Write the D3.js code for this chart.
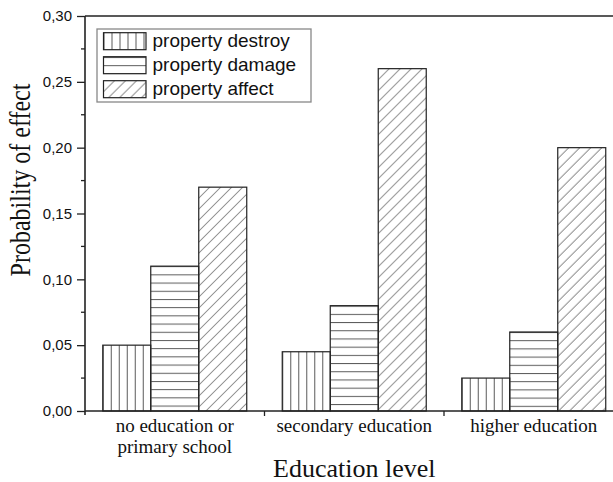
<!DOCTYPE html>
<html>
<head>
<meta charset="utf-8">
<script src="https://cdn.jsdelivr.net/npm/d3@7/dist/d3.min.js"></script>
<style>
  html, body { margin: 0; padding: 0; background: #fff; }
  svg { display: block; }
</style>
</head>
<body>
<div id="chart"></div>
<script>
// Education levels (x categories)
const categories = ["no education or\nprimary school", "secondary education", "higher education"];
// Probability of each kind of effect per education level
const seriesNames = ["property destroy", "property damage", "property affect"];
const destroyValues = [0.05, 0.045, 0.025];
const damageValues = [0.11, 0.08, 0.06];
const affectValues = [0.17, 0.26, 0.20];
const yTicks = [0.00, 0.05, 0.10, 0.15, 0.20, 0.25, 0.30];

const seriesValues = [destroyValues, damageValues, affectValues];
const hatchKinds = ["vertical", "horizontal", "diagonal"];

const W = 613, H = 482;
const plotLeft = 85, plotTop = 16, plotBottom = 411;
const catStep = 179.5;
const textColor = "#111";

const svg = d3.select("#chart").append("svg")
  .attr("width", W).attr("height", H)
  .style("background", "#fff");
const defs = svg.append("defs");

const x0 = d3.scaleBand().domain(d3.range(categories.length))
  .range([plotLeft, plotLeft + catStep * categories.length]).padding(0);
const x1 = d3.scaleBand().domain(d3.range(seriesNames.length))
  .range([0, x0.bandwidth()]).paddingInner(0).paddingOuter(0.37);
const y = d3.scaleLinear().domain([0, 0.30]).range([plotBottom, plotTop]);

const hatchColor = "#5a5a5a";
const edgeColor = "#222";

// one pattern per mark so each hatch starts at its own edge
function makePattern(id, kind, ox, oy) {
  const p = defs.append("pattern").attr("id", id)
    .attr("patternUnits", "userSpaceOnUse")
    .attr("x", ox).attr("y", oy);
  if (kind === "vertical") {
    p.attr("width", 8).attr("height", 10);
    p.append("line").attr("x1", 0.5).attr("x2", 0.5).attr("y1", 0).attr("y2", 10)
      .attr("stroke", hatchColor).attr("stroke-width", 1);
  } else if (kind === "horizontal") {
    p.attr("width", 10).attr("height", 8.2);
    p.append("line").attr("x1", 0).attr("x2", 10).attr("y1", 0.5).attr("y2", 0.5)
      .attr("stroke", hatchColor).attr("stroke-width", 1);
  } else {
    const s = 11;
    p.attr("width", s).attr("height", s);
    p.append("path")
      .attr("d", `M0,${s} L${s},0 M-2,2 L2,-2 M${s - 2},${s + 2} L${s + 2},${s - 2}`)
      .attr("stroke", hatchColor).attr("stroke-width", 0.95).attr("fill", "none");
  }
  return `url(#${id})`;
}

// bars
const plot = svg.append("g");
categories.forEach((c, ci) => {
  seriesValues.forEach((vals, si) => {
    const bx = x0(ci) + x1(si);
    const by = y(vals[ci]);
    const fill = makePattern(`h-${ci}-${si}`, hatchKinds[si], bx, by);
    plot.append("rect")
      .attr("x", bx).attr("y", by)
      .attr("width", x1.bandwidth()).attr("height", y(0) - by)
      .attr("fill", fill)
      .attr("stroke", edgeColor).attr("stroke-width", 1.2);
  });
});

// frame: top edge
svg.append("line").attr("x1", plotLeft).attr("x2", W).attr("y1", plotTop).attr("y2", plotTop)
  .attr("stroke", "#222").attr("stroke-width", 1.6);

// y axis
const yAxis = d3.axisLeft(y).tickValues(yTicks).tickSize(8).tickPadding(5)
  .tickFormat(d => d3.format(".2f")(d).replace(".", ","));
const gy = svg.append("g").attr("transform", `translate(${plotLeft},0)`).call(yAxis);
gy.select(".domain").attr("stroke", "#222").attr("stroke-width", 1.6)
  .attr("d", `M0,${plotBottom + 4}V${plotTop}`);
gy.selectAll(".tick line").attr("stroke", "#222").attr("stroke-width", 1.3);
gy.selectAll(".tick text").attr("font-family", "'Liberation Sans', Arial, sans-serif")
  .attr("font-size", 15).attr("fill", textColor);
// minor ticks
const minor = d3.range(0.025, 0.30, 0.05);
gy.selectAll(".minor").data(minor).enter().append("line")
  .attr("x1", -4).attr("x2", 0).attr("y1", d => y(d)).attr("y2", d => y(d))
  .attr("stroke", "#222").attr("stroke-width", 1.3);

// x axis
const gx = svg.append("g");
gx.append("line").attr("x1", plotLeft).attr("x2", W).attr("y1", plotBottom).attr("y2", plotBottom)
  .attr("stroke", "#222").attr("stroke-width", 1.6);
d3.range(1, categories.length + 1).forEach(i => {
  const tx = plotLeft + i * catStep;
  gx.append("line").attr("x1", tx).attr("x2", tx).attr("y1", plotBottom).attr("y2", plotBottom + 5)
    .attr("stroke", "#222").attr("stroke-width", 1.3);
});
categories.forEach((c, ci) => {
  const cx = x0(ci) + x0.bandwidth() / 2;
  const t = gx.append("text").attr("x", cx).attr("y", 432)
    .attr("text-anchor", "middle")
    .attr("font-family", "'Liberation Serif', 'Times New Roman', serif")
    .attr("font-size", 19).attr("fill", textColor);
  c.split("\n").forEach((line, li) => {
    t.append("tspan").attr("x", cx).attr("dy", li === 0 ? 0 : 20.5).text(line);
  });
});

// axis titles
svg.append("text")
  .attr("x", plotLeft + catStep * categories.length / 2).attr("y", 477)
  .attr("text-anchor", "middle")
  .attr("font-family", "'Liberation Serif', 'Times New Roman', serif")
  .attr("font-size", 26).attr("fill", textColor)
  .text("Education level");
svg.append("text")
  .attr("transform", "translate(30,180) rotate(-90) scale(1,1.25)")
  .attr("text-anchor", "middle")
  .attr("font-family", "'Liberation Serif', 'Times New Roman', serif")
  .attr("font-size", 24).attr("fill", textColor)
  .text("Probability of effect");

// legend
const lg = svg.append("g");
lg.append("rect").attr("x", 97).attr("y", 29).attr("width", 214).attr("height", 73)
  .attr("fill", "#fff").attr("stroke", "#888").attr("stroke-width", 1.3);
seriesNames.forEach((name, si) => {
  const sy = 32.7 + si * 24;
  const fill = makePattern(`lg-${si}`, hatchKinds[si], 103.5, si === 1 ? sy + 8.5 : sy);
  lg.append("rect").attr("x", 103.5).attr("y", sy).attr("width", 42.5).attr("height", 17)
    .attr("fill", fill).attr("stroke", edgeColor).attr("stroke-width", 1.2);
  lg.append("text").attr("x", 152.5).attr("y", sy + 14)
    .attr("font-family", "'Liberation Sans', Arial, sans-serif")
    .attr("font-size", 19).attr("fill", textColor)
    .text(name);
});
</script>
</body>
</html>
